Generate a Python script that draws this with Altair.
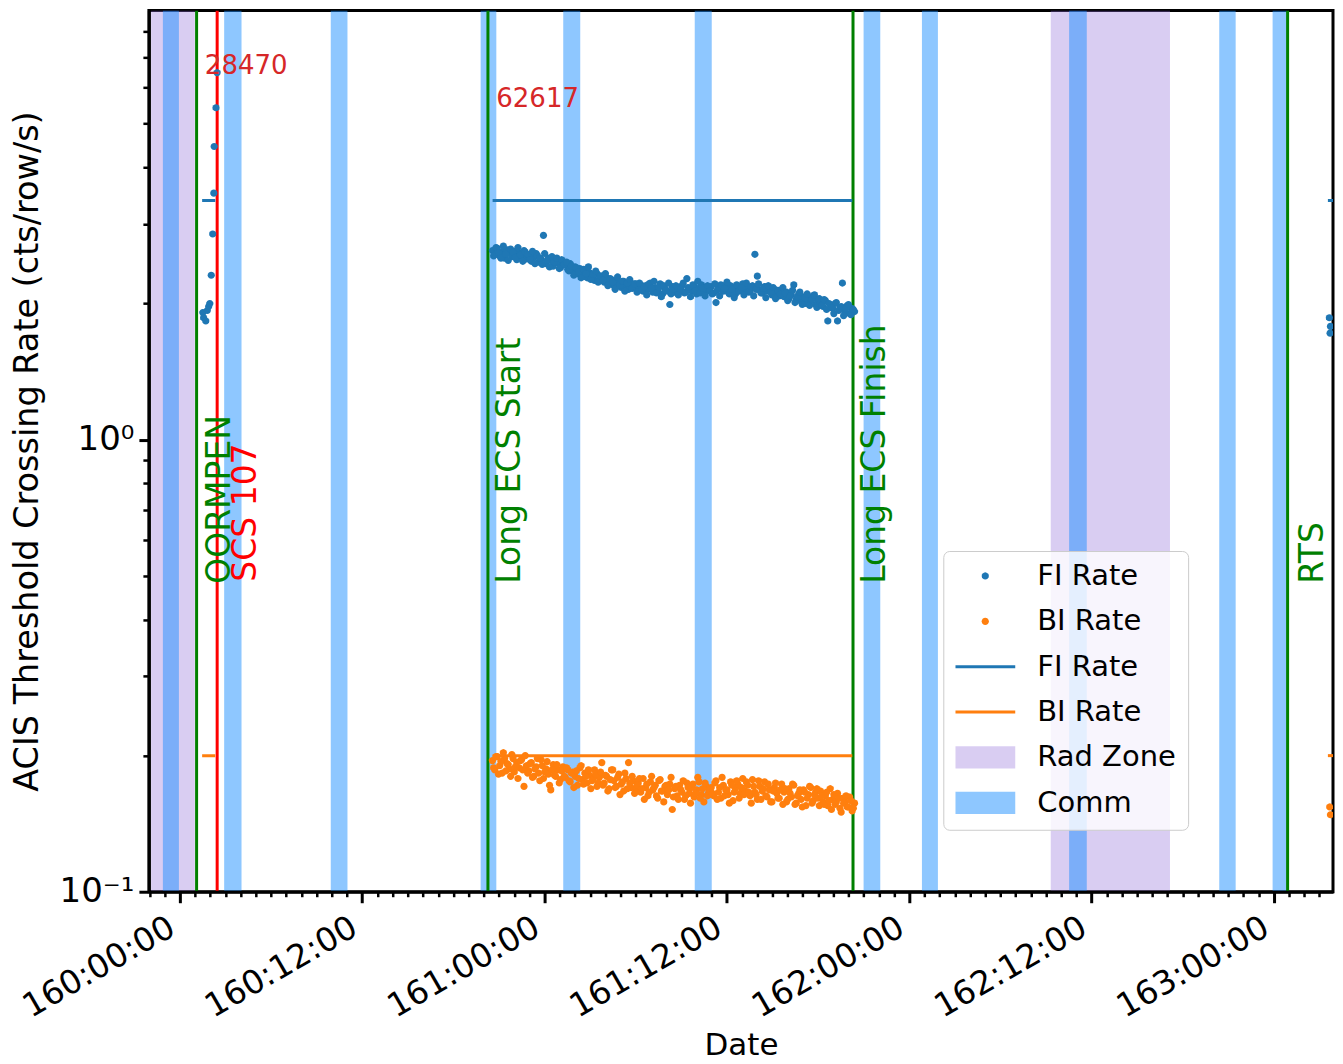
import altair as alt
import pandas as pd
import math

FONT = "DejaVu Sans"

# ---------------- axis ranges / ticks ----------------
X_DOMAIN = [159.915, 163.162]
Y_DOMAIN = [0.1, 8.9]

x_major = [160.0, 160.5, 161.0, 161.5, 162.0, 162.5, 163.0]
x_major_labels = ["160:00:00", "160:12:00", "161:00:00", "161:12:00",
                  "162:00:00", "162:12:00", "163:00:00"]
y_major = [0.1, 1.0]
y_major_labels = ["10\u207b\u00b9", "10\u2070"]
y_minor = [0.2, 0.3, 0.4, 0.5, 0.6, 0.7, 0.8, 0.9, 2.0, 3.0, 4.0, 5.0, 6.0, 7.0, 8.0]

# hourly minor ticks
x_minor = []
for day in range(159, 164):
    for hour in range(24):
        if hour in (0, 12):
            continue
        v = day + hour / 24.0
        if X_DOMAIN[0] <= v <= X_DOMAIN[1]:
            x_minor.append(round(v, 6))

# ---------------- shaded zones ----------------
rad_start = [159.921, 162.388]
rad_end = [160.041, 162.715]
comm_start = [159.9534, 160.1214, 160.4137, 160.8247, 161.0512, 161.4118,
              161.8748, 162.0348, 162.4384, 162.8501, 162.9964]
comm_end = [159.9973, 160.1690, 160.4595, 160.8677, 161.0978, 161.4584,
            161.9205, 162.0786, 162.4868, 162.8951, 163.0348]

# ---------------- event lines ----------------
green_events = [160.0458, 160.8447, 161.8458, 163.0375]
red_events = [160.1022]

ann_text = ["OORMPEN", "SCS 107", "Long ECS Start", "Long ECS Finish", "RTS"]
ann_t = [160.0655, 160.1385, 160.8625, 161.8625, 163.0625]
ann_y = [0.48, 0.485, 0.48, 0.48, 0.48]
ann_color = ["green", "red", "green", "green", "green"]

num_text = ["28470", "62617"]
num_t = [160.0685, 160.8677]
num_y = [6.44, 5.45]

# ---------------- threshold segments ----------------
thr_start = [160.061, 160.8575, 163.148]
thr_end = [160.097, 161.8438, 163.162]
fi_threshold = [3.38, 3.38, 3.38]
bi_threshold = [0.20, 0.20, 0.20]

# ---------------- rates ----------------
fi_left_t = [160.063, 160.065, 160.071, 160.075, 160.079, 160.082,
             160.086, 160.090, 160.093, 160.094, 160.099, 160.102]
fi_left = [1.91, 1.86, 1.83, 1.93, 1.97, 2.00, 2.31, 2.85, 3.51, 4.45, 5.42, 6.48]

main_t0 = 160.857
main_t1 = 161.850
# samples on the main grid
fi_main = [
    2.62, 2.57, 2.65, 2.55, 2.60, 2.52, 2.63, 2.58, 2.54, 2.61, 2.50, 2.59, 2.55, 2.62, 2.51,
    2.56, 2.48, 2.53, 2.58, 2.47, 2.51, 2.83, 2.45, 2.52, 2.49, 2.42, 2.50, 2.46, 2.40, 2.47,
    2.44, 2.38, 2.45, 2.36, 2.41, 2.33, 2.39, 2.30, 2.36, 2.28, 2.34, 2.31, 2.25, 2.33, 2.27,
    2.30, 2.23, 2.28, 2.21, 2.26, 2.19, 2.25, 2.22, 2.17, 2.24, 2.20, 2.15, 2.22, 2.18, 2.21,
    2.16, 2.20, 2.13, 2.19, 2.15, 2.22, 2.12, 2.17, 2.14, 2.21, 2.10, 2.16, 2.13, 1.99, 2.18,
    2.12, 2.17, 2.14, 2.19, 2.11, 2.27, 2.15, 2.13, 2.18, 2.10, 2.16, 2.20, 2.12, 2.17, 2.14,
    2.18, 2.11, 2.01, 2.16, 2.20, 2.13, 2.17, 2.12, 2.19, 2.15, 2.10, 2.18, 2.14, 2.21, 2.12,
    2.17, 2.13, 2.19, 2.57, 2.30, 2.14, 2.11, 2.18, 2.13, 2.16, 2.09, 2.15, 2.12, 2.08, 2.14,
    2.07, 2.12, 2.05, 2.09, 2.20, 2.04, 2.10, 2.02, 2.07, 2.00, 2.06, 2.03, 2.08, 1.99, 2.04,
    2.01, 1.97, 2.03, 1.83, 1.99, 1.95, 2.00, 1.83, 1.96, 2.22, 1.92, 1.98, 1.90, 1.95, 1.92,
]
bi_main = [
    0.195, 0.186, 0.199, 0.190, 0.183, 0.197, 0.192, 0.187, 0.201, 0.184, 0.193, 0.188, 0.196, 0.171, 0.190,
    0.185, 0.193, 0.180, 0.189, 0.183, 0.196, 0.178, 0.187, 0.182, 0.168, 0.191, 0.180, 0.186, 0.177, 0.189,
    0.179, 0.186, 0.175, 0.184, 0.180, 0.172, 0.188, 0.177, 0.183, 0.174, 0.181, 0.176, 0.186, 0.171, 0.179,
    0.193, 0.174, 0.180, 0.169, 0.186, 0.176, 0.171, 0.182, 0.173, 0.167, 0.178, 0.193, 0.170, 0.176, 0.168,
    0.174, 0.166, 0.178, 0.170, 0.163, 0.175, 0.168, 0.172, 0.161, 0.177, 0.167, 0.171, 0.164, 0.173, 0.152,
    0.169, 0.163, 0.172, 0.166, 0.160, 0.174, 0.165, 0.170, 0.162, 0.168, 0.175, 0.164, 0.158, 0.171, 0.166,
    0.170, 0.163, 0.176, 0.166, 0.161, 0.172, 0.168, 0.164, 0.175, 0.159, 0.169, 0.173, 0.165, 0.178, 0.167,
    0.172, 0.163, 0.177, 0.166, 0.160, 0.171, 0.167, 0.175, 0.162, 0.168, 0.158, 0.170, 0.165, 0.161, 0.173,
    0.166, 0.158, 0.169, 0.162, 0.172, 0.157, 0.165, 0.160, 0.168, 0.155, 0.164, 0.170, 0.159, 0.166, 0.161,
    0.167, 0.158, 0.163, 0.155, 0.169, 0.160, 0.156, 0.165, 0.153, 0.161, 0.158, 0.154, 0.162, 0.151, 0.157,
]
# samples half-way between the main grid points
fi_mid = [
    2.55, 2.66, 2.59, 2.52, 2.68, 2.57, 2.49, 2.64, 2.60, 2.53, 2.66, 2.56, 2.48, 2.60, 2.57,
    2.50, 2.61, 2.45, 2.55, 2.52, 2.44, 2.58, 2.49, 2.41, 2.54, 2.47, 2.52, 2.39, 2.50, 2.44,
    2.47, 2.36, 2.42, 2.31, 2.40, 2.35, 2.28, 2.38, 2.33, 2.41, 2.26, 2.32, 2.36, 2.23, 2.30,
    2.25, 2.33, 2.19, 2.27, 2.23, 2.15, 2.29, 2.20, 2.24, 2.13, 2.22, 2.26, 2.16, 2.21, 2.12,
    2.22, 2.14, 2.18, 2.09, 2.21, 2.16, 2.24, 2.11, 2.17, 2.07, 2.19, 2.14, 2.22, 2.10, 2.15,
    2.19, 2.09, 2.15, 2.22, 2.12, 2.17, 2.07, 2.20, 2.13, 2.24, 2.11, 2.16, 2.08, 2.19, 2.13,
    2.10, 2.21, 2.14, 2.08, 2.19, 2.16, 2.23, 2.10, 2.15, 2.06, 2.20, 2.13, 2.17, 2.09, 2.22,
    2.12, 2.18, 2.08, 2.15, 2.21, 2.11, 2.16, 2.06, 2.19, 2.12, 2.17, 2.05, 2.14, 2.10, 2.17,
    2.11, 2.03, 2.08, 2.14, 2.01, 2.07, 2.12, 1.99, 2.06, 2.10, 1.98, 2.04, 2.09, 1.96, 2.05,
    1.98, 2.04, 1.94, 2.00, 1.96, 1.90, 2.01, 1.93, 1.97, 1.88, 1.95, 1.99, 1.89, 1.94,
]
bi_mid = [
    0.188, 0.199, 0.182, 0.194, 0.203, 0.185, 0.191, 0.180, 0.197, 0.189, 0.178, 0.195, 0.186, 0.200, 0.183,
    0.192, 0.179, 0.187, 0.197, 0.176, 0.190, 0.184, 0.194, 0.172, 0.186, 0.181, 0.191, 0.174, 0.185, 0.180,
    0.188, 0.176, 0.183, 0.170, 0.185, 0.178, 0.190, 0.173, 0.180, 0.186, 0.169, 0.178, 0.182, 0.174, 0.184,
    0.172, 0.181, 0.167, 0.177, 0.186, 0.170, 0.179, 0.164, 0.175, 0.183, 0.169, 0.174, 0.180, 0.165, 0.172,
    0.178, 0.169, 0.160, 0.173, 0.166, 0.180, 0.170, 0.163, 0.176, 0.167, 0.158, 0.172, 0.168, 0.179, 0.162,
    0.171, 0.160, 0.168, 0.176, 0.163, 0.170, 0.157, 0.173, 0.165, 0.179, 0.161, 0.169, 0.174, 0.163, 0.168,
    0.165, 0.174, 0.160, 0.170, 0.179, 0.163, 0.168, 0.157, 0.172, 0.166, 0.176, 0.161, 0.170, 0.164, 0.175,
    0.166, 0.157, 0.171, 0.164, 0.176, 0.160, 0.169, 0.163, 0.173, 0.158, 0.167, 0.174, 0.161, 0.168, 0.156,
    0.169, 0.160, 0.165, 0.173, 0.156, 0.163, 0.168, 0.154, 0.166, 0.161, 0.171, 0.157, 0.164, 0.169, 0.155,
    0.163, 0.156, 0.166, 0.159, 0.152, 0.164, 0.158, 0.161, 0.150, 0.157, 0.163, 0.154, 0.159, 0.153,
]
fi_right_t = [163.152, 163.154, 163.155]
fi_right = [1.86, 1.72, 1.78]
bi_right_t = [163.153, 163.155]
bi_right = [0.154, 0.148]

# ---------------- legend ----------------
legend_keys = ["FI pts", "BI pts", "FI line", "BI line", "Rad Zone", "Comm"]
legend_labels = ["FI Rate", "BI Rate", "FI Rate", "BI Rate", "Rad Zone", "Comm"]
legend_colors = ["#1f77b4", "#ff7f0e", "#1f77b4", "#ff7f0e",
                 "rgba(147,112,219,0.35)", "rgba(30,144,255,0.5)"]

_dot = "M" + "L".join(
    f"{0.12 * math.cos(2 * math.pi * k / 16):.4f},{0.12 * math.sin(2 * math.pi * k / 16):.4f}"
    for k in range(16)) + "Z"
_line = "M-1,-0.05L1,-0.05L1,0.05L-1,0.05Z"
_patch = "M-1,-0.37L1,-0.37L1,0.37L-1,0.37Z"
legend_shapes = [_dot, _dot, _line, _line, _patch, _patch]

# ---------------- tables ----------------
zones = pd.DataFrame(
    [{"start": s, "end": e, "series": "Rad Zone"} for s, e in zip(rad_start, rad_end)])
comms = pd.DataFrame(
    [{"start": s, "end": e, "series": "Comm"} for s, e in zip(comm_start, comm_end)])

thr_rows = []
for s, e, f, b in zip(thr_start, thr_end, fi_threshold, bi_threshold):
    thr_rows.append({"start": s, "end": e, "val": f, "series": "FI line"})
    thr_rows.append({"start": s, "end": e, "val": b, "series": "BI line"})
thr = pd.DataFrame(thr_rows)

pt_rows = []
for t, v in zip(fi_left_t, fi_left):
    pt_rows.append({"t": t, "rate": v, "series": "FI pts"})
n = len(fi_main)
step = (main_t1 - main_t0) / (n - 1)
for i, (f, b) in enumerate(zip(fi_main, bi_main)):
    t = main_t0 + step * i
    pt_rows.append({"t": t, "rate": f, "series": "FI pts"})
    pt_rows.append({"t": t, "rate": b, "series": "BI pts"})
for i, (f, b) in enumerate(zip(fi_mid, bi_mid)):
    t = main_t0 + step * (i + 0.5)
    pt_rows.append({"t": t, "rate": f, "series": "FI pts"})
    pt_rows.append({"t": t, "rate": b, "series": "BI pts"})
for t, v in zip(fi_right_t, fi_right):
    pt_rows.append({"t": t, "rate": v, "series": "FI pts"})
for t, v in zip(bi_right_t, bi_right):
    pt_rows.append({"t": t, "rate": v, "series": "BI pts"})
pts = pd.DataFrame(pt_rows)

green_df = pd.DataFrame({"t": green_events})
red_df = pd.DataFrame({"t": red_events})
ann = pd.DataFrame({"t": ann_t, "y": ann_y, "text": ann_text, "color": ann_color})
nums = pd.DataFrame({"t": num_t, "y": num_y, "text": num_text})

# ---------------- axes ----------------
def ternary(vals, labs, key):
    expr = "''"
    for v, lab in reversed(list(zip(vals, labs))):
        expr = f"({key} == {v} ? '{lab}' : {expr})"
    return expr

x_major_test = "indexof([" + ",".join(str(v) for v in x_major) + "], datum.value) >= 0"
y_major_test = "indexof([" + ",".join(str(v) for v in y_major) + "], datum.value) >= 0"

x_axis = alt.Axis(
    values=sorted(x_major + x_minor),
    labelExpr=ternary(x_major, x_major_labels, "datum.value"),
    tickSize={"condition": {"test": x_major_test, "value": 11}, "value": 5},
    tickWidth={"condition": {"test": x_major_test, "value": 3}, "value": 2.5},
    tickColor="black", domainColor="black", domainWidth=3,
    labelAngle=330, labelAlign="right", labelBaseline="top",
    labelFont=FONT, labelFontSize=33, labelColor="black", labelPadding=8,
    labelOffset=-16,
    labelOverlap=False, labelFlush=False, grid=False, zindex=1,
    title="Date", titleFont=FONT, titleFontSize=31, titleFontWeight="normal",
    titleColor="black", titleBaseline="alphabetic", titleY=163,
)
y_axis = alt.Axis(
    values=y_major + y_minor,
    labelExpr=ternary(y_major, y_major_labels, "datum.value"),
    tickSize={"condition": {"test": y_major_test, "value": 10}, "value": 6},
    tickWidth={"condition": {"test": y_major_test, "value": 3}, "value": 2.5},
    tickColor="black", domainColor="black", domainWidth=3,
    labelFont=FONT, labelFontSize=34, labelColor="black", labelPadding=5,
    labelOverlap=False, labelFlush=False, grid=False, zindex=1,
    title="ACIS Threshold Crossing Rate (cts/row/s)", titleFont=FONT,
    titleFontSize=33.5, titleFontWeight="normal", titleColor="black",
    titleX=-104,
)

xs = alt.Scale(domain=X_DOMAIN, nice=False, zero=False)
ys = alt.Scale(type="log", domain=Y_DOMAIN, nice=False)

legend = alt.Legend(
    orient="none", legendX=795, legendY=541, title=None,
    symbolSize=3600, symbolStrokeWidth=0, clipHeight=26, rowPadding=16.4,
    padding=12, labelOffset=22, labelFont=FONT, labelFontSize=29,
    labelColor="black", labelLimit=400,
    labelExpr=ternary([f"'{k}'" for k in legend_keys], legend_labels, "datum.label"),
    fillColor="rgba(255,255,255,0.8)", strokeColor="#cccccc", cornerRadius=6,
)
color = alt.Color("series:N", scale=alt.Scale(domain=legend_keys, range=legend_colors),
                  legend=legend)
shape = alt.Shape("series:N", scale=alt.Scale(domain=legend_keys, range=legend_shapes),
                  legend=legend)

X = lambda f: alt.X(f, scale=xs, axis=x_axis)
Y = lambda f: alt.Y(f, scale=ys, axis=y_axis)

rad_layer = alt.Chart(zones).mark_rect(clip=True).encode(
    x=X("start:Q"), x2="end:Q", color=color)
comm_layer = alt.Chart(comms).mark_rect(clip=True).encode(
    x=X("start:Q"), x2="end:Q", color=color)
green_layer = alt.Chart(green_df).mark_rule(color="green", strokeWidth=3, clip=True).encode(
    x=X("t:Q"))
red_layer = alt.Chart(red_df).mark_rule(color="red", strokeWidth=3, clip=True).encode(
    x=X("t:Q"))
thr_layer = alt.Chart(thr).mark_rule(strokeWidth=3, clip=True).encode(
    x=X("start:Q"), x2="end:Q", y=Y("val:Q"), color=color)
pts_layer = alt.Chart(pts).mark_point(filled=True, size=3600, strokeWidth=0,
                                       opacity=1, clip=True).encode(
    x=X("t:Q"), y=Y("rate:Q"), color=color, shape=shape)
ann_layer = alt.Chart(ann).mark_text(angle=270, align="left", baseline="top",
                                     font=FONT, fontSize=33).encode(
    x=X("t:Q"), y=Y("y:Q"), text="text:N",
    color=alt.Color("color:N", scale=None))
num_layer = alt.Chart(nums).mark_text(align="left", baseline="alphabetic", font=FONT,
                                      fontSize=26, color="#d62728").encode(
    x=X("t:Q"), y=Y("y:Q"), text="text:N")

chart = alt.layer(
    rad_layer, comm_layer, green_layer, red_layer, thr_layer, pts_layer, ann_layer, num_layer
).properties(
    width=1185, height=882,
    autosize=alt.AutoSizeParams(type="none"),
    padding={"left": 141, "top": 2, "right": 2, "bottom": 170},
    background="white",
).configure_view(stroke="black", strokeWidth=3)

chart.save("out.html", embed_options={"renderer": "svg", "actions": False})
